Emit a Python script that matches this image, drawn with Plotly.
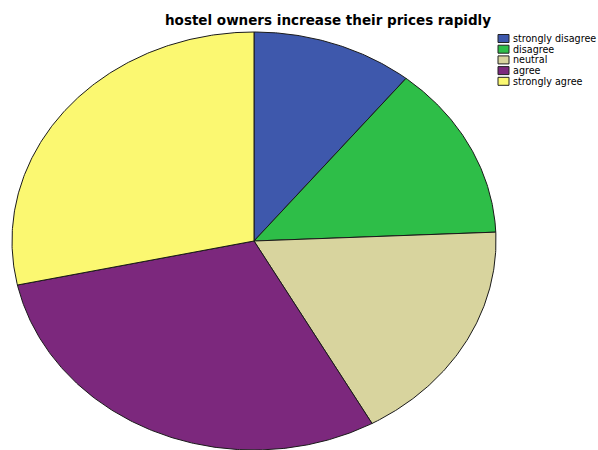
import numpy as np
import plotly.graph_objects as go

# Survey responses
categories = ["strongly disagree", "disagree", "neutral", "agree", "strongly agree"]
counts = [8, 10, 13, 22, 21]
colors = ["#3E58AC", "#2EBE48", "#D8D49E", "#7C287D", "#FBF871"]

title_text = "hostel owners increase their prices rapidly"

W, H = 598, 450
# Ellipse geometry in pixel-like axis units (y axis reversed)
cx, cy, rx, ry = 254, 241, 242, 209

fig = go.Figure()

total = float(sum(counts))
start = 0.0
for cat, val, col in zip(categories, counts, colors):
    frac = val / total
    th = np.linspace(start, start + frac, max(int(frac * 720), 8)) * 2 * np.pi
    xs = np.concatenate([[cx], cx + rx * np.sin(th), [cx]])
    ys = np.concatenate([[cy], cy - ry * np.cos(th), [cy]])
    fig.add_trace(go.Scatter(
        x=xs, y=ys, mode="lines", fill="toself", fillcolor=col,
        line=dict(color="#1a1a1a", width=1), name=cat,
        hoverinfo="text", text=f"{cat}: {val}", showlegend=False,
    ))
    start += frac

# Legend swatches and labels
shapes = []
annotations = []
row0, row_h = 38.5, 10.7
for i, (cat, col) in enumerate(zip(categories, colors)):
    yc = row0 + i * row_h
    shapes.append(dict(type="rect", xref="x", yref="y",
                       x0=498, x1=509, y0=yc - 4, y1=yc + 4,
                       fillcolor=col, line=dict(color="#222222", width=1)))
    annotations.append(dict(x=511, y=yc, xref="x", yref="y", text=cat,
                            showarrow=False, xanchor="left", yanchor="middle",
                            font=dict(family="DejaVu Sans, Verdana", size=9.6, color="#000000")))

annotations.append(dict(x=328, y=20, xref="x", yref="y", text=f"<b>{title_text}</b>",
                        showarrow=False, xanchor="center", yanchor="middle",
                        font=dict(family="DejaVu Sans, Verdana", size=13.5, color="#000000")))

fig.update_layout(
    width=W, height=H,
    margin=dict(l=0, r=0, t=0, b=0),
    paper_bgcolor="white", plot_bgcolor="white",
    xaxis=dict(range=[0, W], visible=False, fixedrange=True),
    yaxis=dict(range=[H, 0], visible=False, fixedrange=True),
    shapes=shapes, annotations=annotations,
    showlegend=False,
)

fig.write_html("out.html")
